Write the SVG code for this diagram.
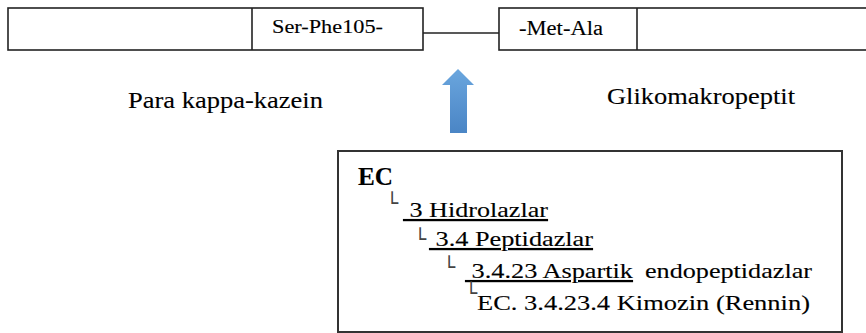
<svg xmlns="http://www.w3.org/2000/svg" width="866" height="333" viewBox="0 0 866 333">
<defs>
<style>
.box{fill:#fff;stroke:#222;stroke-width:1.6}
.div{stroke:#222;stroke-width:1.6}
.t{font-family:"Liberation Serif","Times New Roman",serif;fill:#000;stroke:#000;stroke-width:0.12px}
.u{text-decoration:underline;white-space:pre}
.br{font-family:"DejaVu Sans Mono","DejaVu Sans",monospace;font-size:20px;fill:#444;stroke:none}
</style>
<linearGradient id="ag" x1="0" y1="0" x2="0" y2="1">
<stop offset="0" stop-color="#6aa6de"/>
<stop offset="1" stop-color="#4a85c5"/>
</linearGradient>
</defs>
<rect width="866" height="333" fill="#fff"/>
<g id="connectors">
<line x1="423" y1="33" x2="499" y2="33" stroke="#222" stroke-width="1.6"/>
<polygon points="458,69 474,85 467,85 467,133 450,133 450,85 442,85" fill="url(#ag)"/>
</g>
<g id="left-chain">
<rect class="box" x="8" y="8" width="415" height="42"/>
<line class="div" x1="252" y1="8" x2="252" y2="50"/>
<text class="t" x="272" y="33" font-size="19" textLength="111" lengthAdjust="spacingAndGlyphs">Ser-Phe105-</text>
</g>
<g id="right-chain">
<rect class="box" x="499" y="8" width="380" height="42"/>
<line class="div" x1="637" y1="8" x2="637" y2="50"/>
<text class="t" x="519" y="35" font-size="20" textLength="84" lengthAdjust="spacingAndGlyphs">-Met-Ala</text>
</g>
<g id="label-para">
<text class="t" x="128" y="108" font-size="23" textLength="195" lengthAdjust="spacingAndGlyphs">Para kappa-kazein</text>
</g>
<g id="label-gliko">
<text class="t" x="607" y="104" font-size="23" textLength="188" lengthAdjust="spacingAndGlyphs">Glikomakropeptit</text>
</g>
<g id="ec-box">
<rect x="338" y="151" width="504" height="181" fill="#fff" stroke="#333" stroke-width="2"/>
<text class="t" x="358" y="185" font-size="25" font-weight="bold" textLength="35" lengthAdjust="spacingAndGlyphs">EC</text>
<text class="t" font-size="21" y="217"><tspan class="br" x="386" dy="-7">└</tspan><tspan class="u" x="403" dy="7" textLength="145" lengthAdjust="spacingAndGlyphs"> 3 Hidrolazlar</tspan></text>
<text class="t" font-size="21" y="246"><tspan class="br" x="414" dy="0">└</tspan><tspan class="u" x="429" dy="0" textLength="164" lengthAdjust="spacingAndGlyphs"> 3.4 Peptidazlar</tspan></text>
<text class="t" font-size="21" y="278"><tspan class="br" x="443" dy="-4">└</tspan><tspan class="u" x="465" dy="4" textLength="168" lengthAdjust="spacingAndGlyphs"> 3.4.23 Aspartik</tspan><tspan x="645" textLength="167" lengthAdjust="spacingAndGlyphs">endopeptidazlar</tspan></text>
<text class="t" font-size="21" y="310"><tspan class="br" x="465" dy="-10" font-size="14">└</tspan><tspan x="477" dy="10" textLength="333" lengthAdjust="spacingAndGlyphs">EC. 3.4.23.4 Kimozin (Rennin)</tspan></text>
</g>
</svg>
